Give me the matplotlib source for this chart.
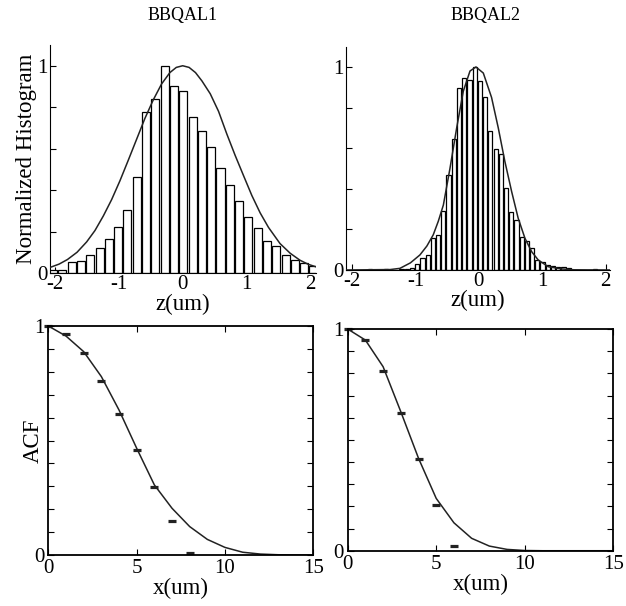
import matplotlib
matplotlib.use('Agg')
import matplotlib.pyplot as plt
import numpy as np

plt.rcParams['font.family'] = ['Liberation Serif', 'DejaVu Serif']
plt.rcParams['axes.unicode_minus'] = False

sz_tick = 15
sz_lab = 16.5

# BBQAL1 height histogram (normalized) and fitted curve
z1_bins = [-2.025, -1.880, -1.734, -1.589, -1.444, -1.298, -1.153, -1.008, -0.863, -0.717,
           -0.572, -0.427, -0.281, -0.136, 0.009, 0.155, 0.300, 0.445, 0.590, 0.736,
           0.881, 1.026, 1.172, 1.317, 1.462, 1.607, 1.753, 1.898, 2.043]
h1 = [0.015, 0.016, 0.053, 0.060, 0.086, 0.123, 0.163, 0.224, 0.306, 0.461,
      0.778, 0.840, 1.000, 0.902, 0.880, 0.755, 0.683, 0.608, 0.507, 0.424,
      0.346, 0.269, 0.216, 0.155, 0.128, 0.088, 0.064, 0.048, 0.035]
z1_fit = [-2.07, -1.93, -1.80, -1.65, -1.50, -1.37, -1.24, -1.11, -0.98, -0.85, -0.72, -0.59,
          -0.46, -0.33, -0.20, -0.10, 0.0, 0.10, 0.20, 0.30, 0.43, 0.56, 0.69, 0.82, 0.95,
          1.08, 1.21, 1.34, 1.52, 1.68, 1.83, 1.96, 2.08]
g1_fit = [0.027, 0.043, 0.065, 0.100, 0.150, 0.205, 0.275, 0.354, 0.445, 0.544, 0.645, 0.746,
          0.835, 0.912, 0.967, 0.992, 1.000, 0.992, 0.967, 0.927, 0.865, 0.780, 0.670, 0.567,
          0.470, 0.374, 0.290, 0.220, 0.142, 0.095, 0.062, 0.042, 0.030]

# BBQAL2 height histogram (normalized) and fitted curve
z2_bins = [-1.714, -1.632, -1.549, -1.467, -1.384, -1.302, -1.220, -1.137, -1.055, -0.972,
           -0.890, -0.808, -0.725, -0.643, -0.560, -0.478, -0.396, -0.313, -0.231, -0.148,
           -0.066, 0.016, 0.099, 0.181, 0.264, 0.346, 0.428, 0.511, 0.593, 0.676,
           0.758, 0.840, 0.923, 1.005, 1.088, 1.170, 1.252, 1.335, 1.417, 1.500,
           1.582, 1.664, 1.747, 1.829]
h2 = [0.005, 0.0, 0.0, 0.004, 0.0, 0.0, 0.004, 0.006, 0.010, 0.028,
      0.058, 0.074, 0.156, 0.173, 0.290, 0.470, 0.645, 0.896, 0.946, 0.937,
      1.000, 0.929, 0.850, 0.686, 0.595, 0.572, 0.403, 0.288, 0.247, 0.164,
      0.143, 0.110, 0.049, 0.038, 0.025, 0.021, 0.015, 0.015, 0.008, 0.0,
      0.0, 0.0, 0.0, 0.004]
z2_fit = [-2.10, -1.40, -1.245, -1.08, -0.93, -0.82, -0.72, -0.64, -0.56, -0.456, -0.35,
          -0.246, -0.14, -0.046, 0.07, 0.20, 0.306, 0.41, 0.517, 0.62, 0.727, 0.833,
          0.937, 1.095, 1.306, 1.50, 2.07]
g2_fit = [0.0, 0.002, 0.008, 0.035, 0.074, 0.118, 0.173, 0.240, 0.320, 0.500, 0.700,
          0.880, 0.980, 1.000, 0.970, 0.850, 0.700, 0.535, 0.386, 0.255, 0.156, 0.090,
          0.049, 0.016, 0.005, 0.001, 0.0]

# autocorrelation functions
x1_acf = [0, 1, 2, 3, 4, 5, 6, 7, 8]
acf1 = [1.000, 0.965, 0.884, 0.761, 0.616, 0.459, 0.298, 0.148, 0.007]
x1_fit = [0, 1, 2, 3, 4, 5, 6, 7, 8, 9, 10, 11, 12, 13, 14, 15]
acf1_fit = [1.0, 0.956, 0.888, 0.779, 0.633, 0.466, 0.306, 0.204, 0.124, 0.068, 0.033,
            0.012, 0.004, 0.001, 0.0, 0.0]

x2_acf = [0, 1, 2, 3, 4, 5, 6]
acf2 = [1.000, 0.950, 0.812, 0.623, 0.412, 0.206, 0.021]
x2_fit = [0, 1, 2, 3, 4, 5, 6, 7, 8, 9, 10, 11, 12, 13, 14, 15]
acf2_fit = [1.0, 0.950, 0.830, 0.627, 0.417, 0.236, 0.126, 0.056, 0.021, 0.006, 0.001,
            0.0, 0.0, 0.0, 0.0, 0.0]

fig = plt.figure(figsize=(6.26, 6.06), dpi=100)

ax_0 = fig.add_axes([0.0799, 0.5495, 0.4251, 0.3762])
ax_1 = fig.add_axes([0.5527, 0.5545, 0.4217, 0.3685])
ax_2 = fig.add_axes([0.0773, 0.0842, 0.4232, 0.3778])
ax_3 = fig.add_axes([0.5554, 0.0912, 0.4243, 0.3659])

# histograms
ax_0.bar(z1_bins, h1, width=0.127, color='white', edgecolor='black', linewidth=0.9, zorder=2)
ax_0.plot(z1_fit, g1_fit, color='#222222', lw=1.1, zorder=3)
ax_1.bar(z2_bins, h2, width=0.066, color='white', edgecolor='black', linewidth=0.9, zorder=2)
ax_1.plot(z2_fit, g2_fit, color='#222222', lw=1.1, zorder=3)

for ax, xl in ((ax_0, (-2.072, 2.084)), (ax_1, (-2.096, 2.068))):
    ax.set_xlim(*xl)
    ax.set_ylim(0, 1.1)
    ax.spines['top'].set_visible(False)
    ax.spines['right'].set_visible(False)
    ax.set_xticks([-2, -1, 0, 1, 2])
    ax.set_xticklabels(['-2', '-1', '0', '1', '2'])
    ax.set_yticks([0, 0.2, 0.4, 0.6, 0.8, 1.0])
    ax.set_yticklabels(['0', '', '', '', '', '1'])
    ax.tick_params(direction='in', length=4, labelsize=sz_tick, pad=2)
    ax.tick_params(axis='x', pad=1.5)
    ax.set_xlabel('z(um)', fontsize=sz_lab, labelpad=-0.5)

ax_0.set_ylabel('Normalized Histogram', fontsize=sz_lab, labelpad=0)

# ACF panels
ax_2.plot(x1_fit, acf1_fit, color='#222222', lw=1.1)
ax_2.plot(x1_acf, acf1, ls='none', marker='_', ms=6, mew=2.3, color='#222222', clip_on=False)
ax_3.plot(x2_fit, acf2_fit, color='#222222', lw=1.1)
ax_3.plot(x2_acf, acf2, ls='none', marker='_', ms=6, mew=2.3, color='#222222', clip_on=False)

for ax in (ax_2, ax_3):
    ax.set_xlim(0, 15)
    ax.set_ylim(0, 1)
    ax.set_xticks([0, 5, 10, 15])
    ax.set_yticks(np.linspace(0, 1, 11))
    ax.set_yticklabels(['0'] + [''] * 9 + ['1'])
    ax.tick_params(direction='in', length=4, labelsize=sz_tick, pad=3,
                   top=True, right=True)
    for s in ax.spines.values():
        s.set_linewidth(1.3)
    ax.set_xlabel('x(um)', fontsize=sz_lab, labelpad=0)

ax_2.set_ylabel('ACF', fontsize=sz_lab, labelpad=-7)

fig.text(0.292, 0.975, 'BBQAL1', ha='center', va='center', fontsize=13)
fig.text(0.775, 0.975, 'BBQAL2', ha='center', va='center', fontsize=13)

fig.savefig('out.png', dpi=100)
